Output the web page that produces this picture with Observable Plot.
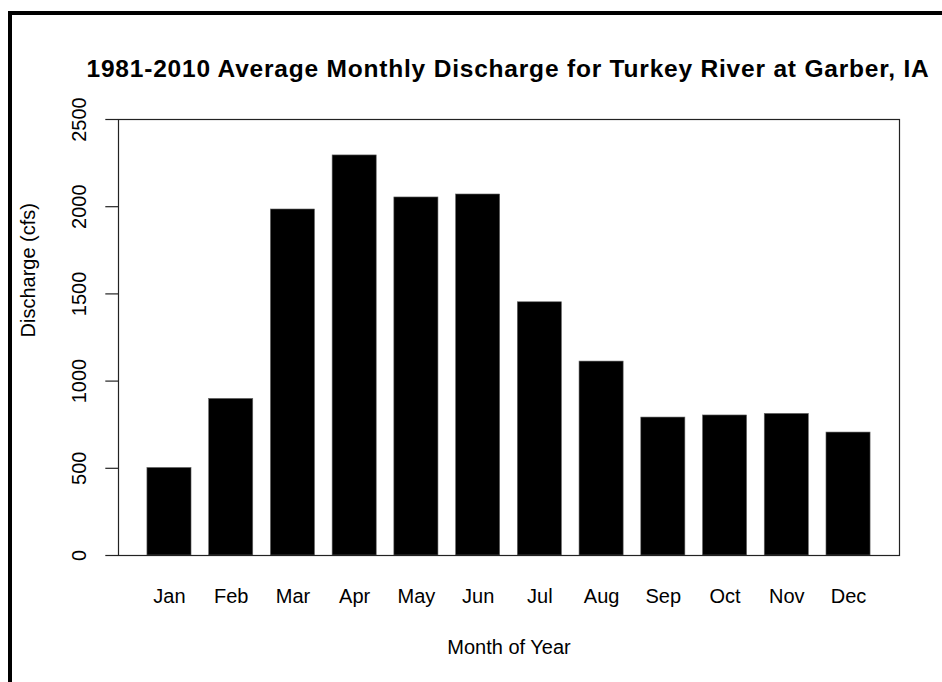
<!DOCTYPE html>
<html>
<head>
<meta charset="utf-8">
<script src="https://cdn.jsdelivr.net/npm/d3@7"></script>
<script src="https://cdn.jsdelivr.net/npm/@observablehq/plot@0.6"></script>
<style>
  html, body { margin: 0; padding: 0; background: #fff; }
  #wrap { position: relative; width: 942px; height: 682px; overflow: hidden; background: #fff; }
  #border { position: absolute; left: 8px; top: 11px; width: 1000px; height: 1000px; border: 4px solid #000; box-sizing: border-box; }
  #title { position: absolute; left: 0; top: 57px; width: 1016px; text-align: center; font-family: "Liberation Sans", Arial, sans-serif; font-weight: bold; font-size: 24.5px; line-height: 1; letter-spacing: 0.8px; color: #000; white-space: nowrap; }
  #chart { position: absolute; left: 0; top: 0; }
</style>
</head>
<body>
<div id="wrap">
  <div id="border"></div>
  <div id="chart"></div>
  <div id="title">1981-2010 Average Monthly Discharge for Turkey River at Garber, IA</div>
</div>
<script>
const months = ["Jan", "Feb", "Mar", "Apr", "May", "Jun", "Jul", "Aug", "Sep", "Oct", "Nov", "Dec"];
const discharge = [502, 898, 1984, 2294, 2053, 2070, 1452, 1112, 791, 803, 812, 705];
const yTicks = [0, 500, 1000, 1500, 2000, 2500];
const xLabel = "Month of Year";
const yLabel = "Discharge (cfs)";

const data = months.map((m, i) => ({month: m, value: discharge[i]}));

const chart = Plot.plot({
  width: 942,
  height: 682,
  marginLeft: 118,
  marginRight: 43,
  marginTop: 119,
  marginBottom: 127,
  style: {fontFamily: "'Liberation Sans', Arial, sans-serif", fontSize: "20px", color: "#000", background: "transparent"},
  x: {type: "band", domain: months, paddingInner: 0.4 / 1.4, paddingOuter: 0.656 / 1.4, round: false, align: 0.5, label: null},
  y: {domain: [0, 2500], label: null},
  marks: [
    Plot.barY(data, {x: "month", y: "value", fill: "#000", stroke: "#666", strokeWidth: 0.6, insetLeft: 0, insetRight: 0}),
    Plot.frame({stroke: "#222", strokeWidth: 1.2}),
    Plot.axisX({tickSize: 0, tickPadding: 33, label: null, fontSize: 20}),
    Plot.axisY({ticks: yTicks, tickSize: 12.7, tickFormat: () => "", label: null, stroke: "#222", strokeWidth: 1.2}),
    Plot.text(yTicks, {y: d => d, text: d => String(d), frameAnchor: "left", dx: -39, rotate: -90, textAnchor: "middle", fontSize: 20}),
    Plot.text([yLabel], {frameAnchor: "left", dx: -90, rotate: -90, fontSize: 20}),
    Plot.text([xLabel], {frameAnchor: "bottom", dy: 98, fontSize: 20})
  ]
});
document.getElementById("chart").appendChild(chart);
</script>
</body>
</html>
